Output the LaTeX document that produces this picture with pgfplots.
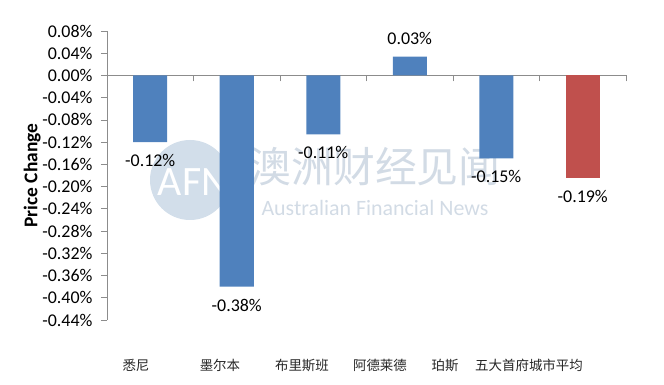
\documentclass[border=0pt]{standalone}
\usepackage{pgfplots}
\pgfplotsset{compat=1.18}
\usepackage{pgfplotstable}
\usepackage{fontspec}
\setmainfont{Carlito}
\newfontfamily\cjk{Noto Sans CJK SC}
\definecolor{barblue}{HTML}{4F81BD}
\definecolor{barred}{HTML}{C0504D}
\definecolor{axgray}{HTML}{8C8C8C}
\definecolor{wmcircle}{HTML}{D2DEEA}
\definecolor{wmtext}{HTML}{D2DBE5}

\pgfplotstableread{
x y m
0 -0.120 -0.12
1 -0.380 -0.38
2 -0.106 -0.11
3 0.034 0.03
4 -0.149 -0.15
}\cities
\pgfplotstableread{
x y m
5 -0.184 -0.19
}\average

\begin{document}
\begin{tikzpicture}
\path[use as bounding box] (-107bp,-65bp) rectangle (557bp,320bp);
% watermark
\fill[wmcircle] (83bp,140bp) circle (40bp);
\node[text=white, font=\fontsize{42}{44}\selectfont] at (86bp,138bp) {AFN};
\node[text=wmtext, font=\cjk\fontsize{42}{44}\selectfont] at (268bp,153bp) {澳洲财经见闻};
\node[text=wmtext, font=\fontsize{22}{24}\selectfont] at (268bp,112bp) {Australian Financial News};

\begin{axis}[
  at={(0,0)}, anchor=south west,
  scale only axis, width=519bp, height=289bp,
  xmin=-0.5, xmax=5.5, ymin=-0.44, ymax=0.08,
  axis y line=left, axis x line=middle,
  axis line style={-, draw=axgray, line width=0.8pt},
  tick style={draw=axgray, line width=0.8pt},
  tick align=outside, major tick length=6bp,
  xtick={-0.5,0.5,1.5,2.5,3.5,4.5,5.5}, xticklabels={},
  ytick={-0.44,-0.40,-0.36,-0.32,-0.28,-0.24,-0.20,-0.16,-0.12,-0.08,-0.04,0,0.04,0.08},
  /pgf/number format/assume math mode=true,
  yticklabel={\pgfmathprintnumber[fixed,fixed zerofill,precision=2]{\tick}\%},
  yticklabel style={font=\fontsize{18}{20}\selectfont, text=black, xshift=-5bp},
  ylabel={Price Change},
  every axis y label/.style={at={(axis description cs:-0.144,0.5)}, rotate=90, anchor=center, font=\bfseries\fontsize{19.5}{21}\selectfont},
  ybar, bar width=34bp, bar shift=0pt,
  clip=false,
  nodes near coords={\pgfmathprintnumber[fixed,fixed zerofill,precision=2]{\pgfplotspointmeta}\%},
  nodes near coords align={vertical},
  every node near coord/.append style={font=\fontsize{18}{20}\selectfont, text=black, inner ysep=12bp},
  point meta=explicit,
]
\addplot[fill=barblue, draw=none] table[x=x, y=y, meta=m] {\cities};
\addplot[fill=barred, draw=none] table[x=x, y=y, meta=m] {\average};
\end{axis}

\begin{axis}[
  at={(0,0)}, anchor=south west,
  scale only axis, width=519bp, height=289bp,
  xmin=-0.5, xmax=5.5, ymin=-0.44, ymax=0.08,
  axis x line*=bottom, axis y line=none,
  axis line style={draw=none}, tick style={draw=none},
  ytick=\empty,
  xtick={-0.165,0.806,1.754,2.656,3.408,4.379},
  xticklabels={悉尼,墨尔本,布里斯班,阿德莱德,珀斯,五大首府城市平均},
  xticklabel style={anchor=center, yshift=-45bp, font=\cjk\fontsize{13.5}{15}\selectfont, text=black!85},
]
\end{axis}
\end{tikzpicture}
\end{document}
